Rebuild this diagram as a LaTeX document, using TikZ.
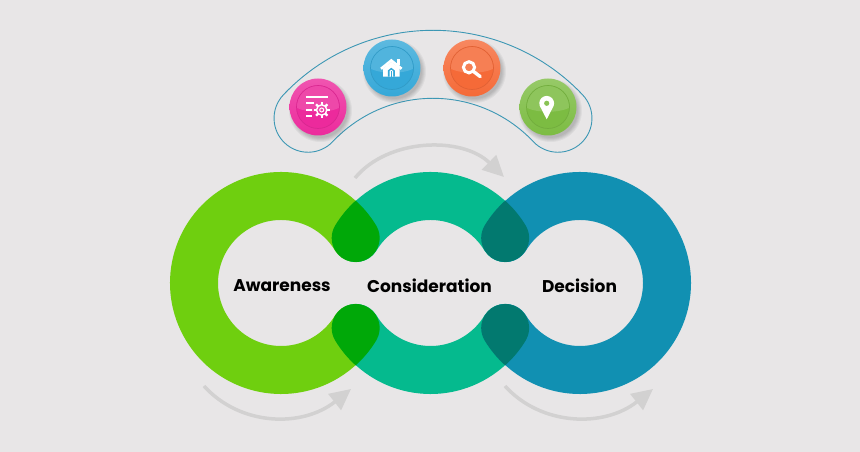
\documentclass[tikz,border=0pt]{standalone}
\usepackage{fontspec}
\setmainfont{Poppins}
\usepackage{tikz}
\usetikzlibrary{arrows.meta,calc}
\definecolor{bggray}{HTML}{E8E6E7}
\definecolor{ringgreen}{HTML}{6FCF0F}
\definecolor{ringteal}{HTML}{05BA8E}
\definecolor{ringblue}{HTML}{1190B2}
\definecolor{lobegreen}{HTML}{00A808}
\definecolor{lobeteal}{HTML}{02796F}
\definecolor{bandblue}{HTML}{3C97B4}
\definecolor{arrowgray}{HTML}{D2D1D1}
\definecolor{btnpink}{HTML}{EC2A9C}
\definecolor{btnblue}{HTML}{35A8D8}
\definecolor{btnorange}{HTML}{F56A38}
\definecolor{btngreen}{HTML}{7CBC42}
\tikzset{
  ring/.style = {line width=48pt, line cap=round},
  flow/.style = {line width=3.5pt, draw=arrowgray, -{Triangle[length=21pt,width=20pt]}},
  label/.style = {font=\bfseries\fontsize{17}{19}\selectfont, text=black, inner sep=0pt},
  btn/.style = {circle, minimum size=57pt, inner sep=0pt, top color=#1!80!white, bottom color=#1},
}
\begin{document}
\begin{tikzpicture}[x=1pt, y=1pt, thick]
  \useasboundingbox[fill=bggray] (0,0) rectangle (860,452);

  % band behind the buttons
  \draw[bandblue, line width=0.9pt]
    ($(433,216)+(136.7:205.7)$) arc[start angle=136.7, end angle=43.3, radius=205.7]
    arc[start angle=43.3, end angle=-136.7, radius=34]
    arc[start angle=43.3, end angle=136.7, radius=137.7]
    arc[start angle=-43.3, end angle=-223.3, radius=34] -- cycle;

  % rings
  \draw[ring, ringgreen] ($(281,169)+(31.1:87)$) arc[start angle=31.1, end angle=328.9, radius=87];
  \draw[ring, ringteal] ($(430.5,169)+(148.9:87)$) arc[start angle=148.9, end angle=31.1, radius=87];
  \draw[ring, ringteal] ($(430.5,169)+(-148.9:87)$) arc[start angle=-148.9, end angle=-31.1, radius=87];
  \draw[ring, ringblue] ($(580,169)+(148.9:87)$) arc[start angle=148.9, end angle=-148.9, radius=87];

  % overlaps
  \fill[lobegreen] (355.75,251.3) arc[start angle=47.8, end angle=31.1, radius=111]
    arc[start angle=31.1, end angle=-211.1, radius=24]
    arc[start angle=148.9, end angle=132.2, radius=111] -- cycle;
  \fill[lobegreen] (355.75,86.7) arc[start angle=-47.8, end angle=-31.1, radius=111]
    arc[start angle=-31.1, end angle=211.1, radius=24]
    arc[start angle=-148.9, end angle=-132.2, radius=111] -- cycle;
  \fill[lobeteal] (505.25,251.3) arc[start angle=47.8, end angle=31.1, radius=111]
    arc[start angle=31.1, end angle=-211.1, radius=24]
    arc[start angle=148.9, end angle=132.2, radius=111] -- cycle;
  \fill[lobeteal] (505.25,86.7) arc[start angle=-47.8, end angle=-31.1, radius=111]
    arc[start angle=-31.1, end angle=211.1, radius=24]
    arc[start angle=-148.9, end angle=-132.2, radius=111] -- cycle;

  \node[label] (aware) at (282,166) {Awareness};
  \node[label] (consider) at (429.5,166) {Consideration};
  \node[label] (decide) at (579.5,166) {Decision};

  % grey arrows
  \coordinate (t1) at (355,274);
  \coordinate (t2) at (504,275);
  \coordinate (b1) at (204,66);
  \coordinate (b2) at (351,63);
  \coordinate (b3) at (505,66);
  \coordinate (b4) at (653,63);
  \draw[flow] (t1) .. controls +(33,40) and +(-42,41) .. (t2);
  \draw[flow] (b1) .. controls +(36,-40) and +(-49,-39) .. (b2);
  \draw[flow] (b3) .. controls +(36,-40) and +(-49,-39) .. (b4);

  % buttons
  \foreach \nm/\px/\py/\col in {pink/318/345/btnpink, blue/392/384/btnblue, orange/472/384/btnorange, green/548/345/btngreen}{
    \foreach \k in {5,4,3,2,1}
      \fill[black, opacity=0.045] (\px+2.5,\py-3.5) circle[radius=26.5+\k];
    \node[btn=\col] (\nm) at (\px,\py) {};
    \draw[\col!92!black, line width=0.7pt, fill=\col] (\nm) circle[radius=21.5];
    \fill[white, opacity=0.14] (\px-21,\py-1) arc[start angle=183, end angle=-3, radius=21] .. controls (\px+10,\py-6) and (\px-10,\py-6) .. cycle;
  }

  % icons
  \begin{scope}[shift={(pink)}, white]
    \draw[line width=1.2pt] (-12,10) -- (10,10) (-12,4) -- (-4,4) (-12,-3) -- (-6,-3) (-12,-9) -- (-6,-9);
    \draw[line width=1.4pt] (3.7,-3) circle[radius=5.2];
    \draw[line width=1pt] (3.7,-3) circle[radius=2];
    \foreach \a in {0,45,...,315}
      \draw[line width=2.2pt] ($(3.7,-3)+(\a:5)$) -- ($(3.7,-3)+(\a:8)$);
  \end{scope}
  \begin{scope}[shift={(blue)}, white]
    \fill (-9,-0.5) -- (-0.7,6) -- (7.7,-0.5) -- (7.7,-8.7) -- (-9,-8.7) -- cycle;
    \draw[line width=2.6pt, line join=miter] (-11,-0.8) -- (-0.7,7.5) -- (9.6,-0.8);
    \fill (5,9) rectangle (7.5,3);
    \fill[btnblue] (-4.2,-8.7) -- (-4.2,-2.5) -- (-0.7,0.2) -- (2.8,-2.5) -- (2.8,-8.7) -- cycle;
    \fill (-2.4,-8.7) -- (-2.4,-3) -- (-0.7,-1.8) -- (1,-3) -- (1,-8.7) -- cycle;
    \fill[btnblue] (-1.3,-8.7) rectangle (-0.1,-3.5);
  \end{scope}
  \begin{scope}[shift={(orange)}, white]
    \draw[line width=3pt] (-3,0.7) circle[radius=5.6];
    \draw[line width=3.4pt, line cap=round] (2.2,-4) -- (8.2,-8.6);
  \end{scope}
  \begin{scope}[shift={(green)}, white]
    \fill (-1.3,-12.3) -- ($(-1.3,3.7)+(200:7.4)$) arc[start angle=200, end angle=-20, radius=7.4] -- cycle;
    \fill[btngreen!90!white] (-1.3,3.7) circle[radius=2.6];
  \end{scope}
\end{tikzpicture}
\end{document}
